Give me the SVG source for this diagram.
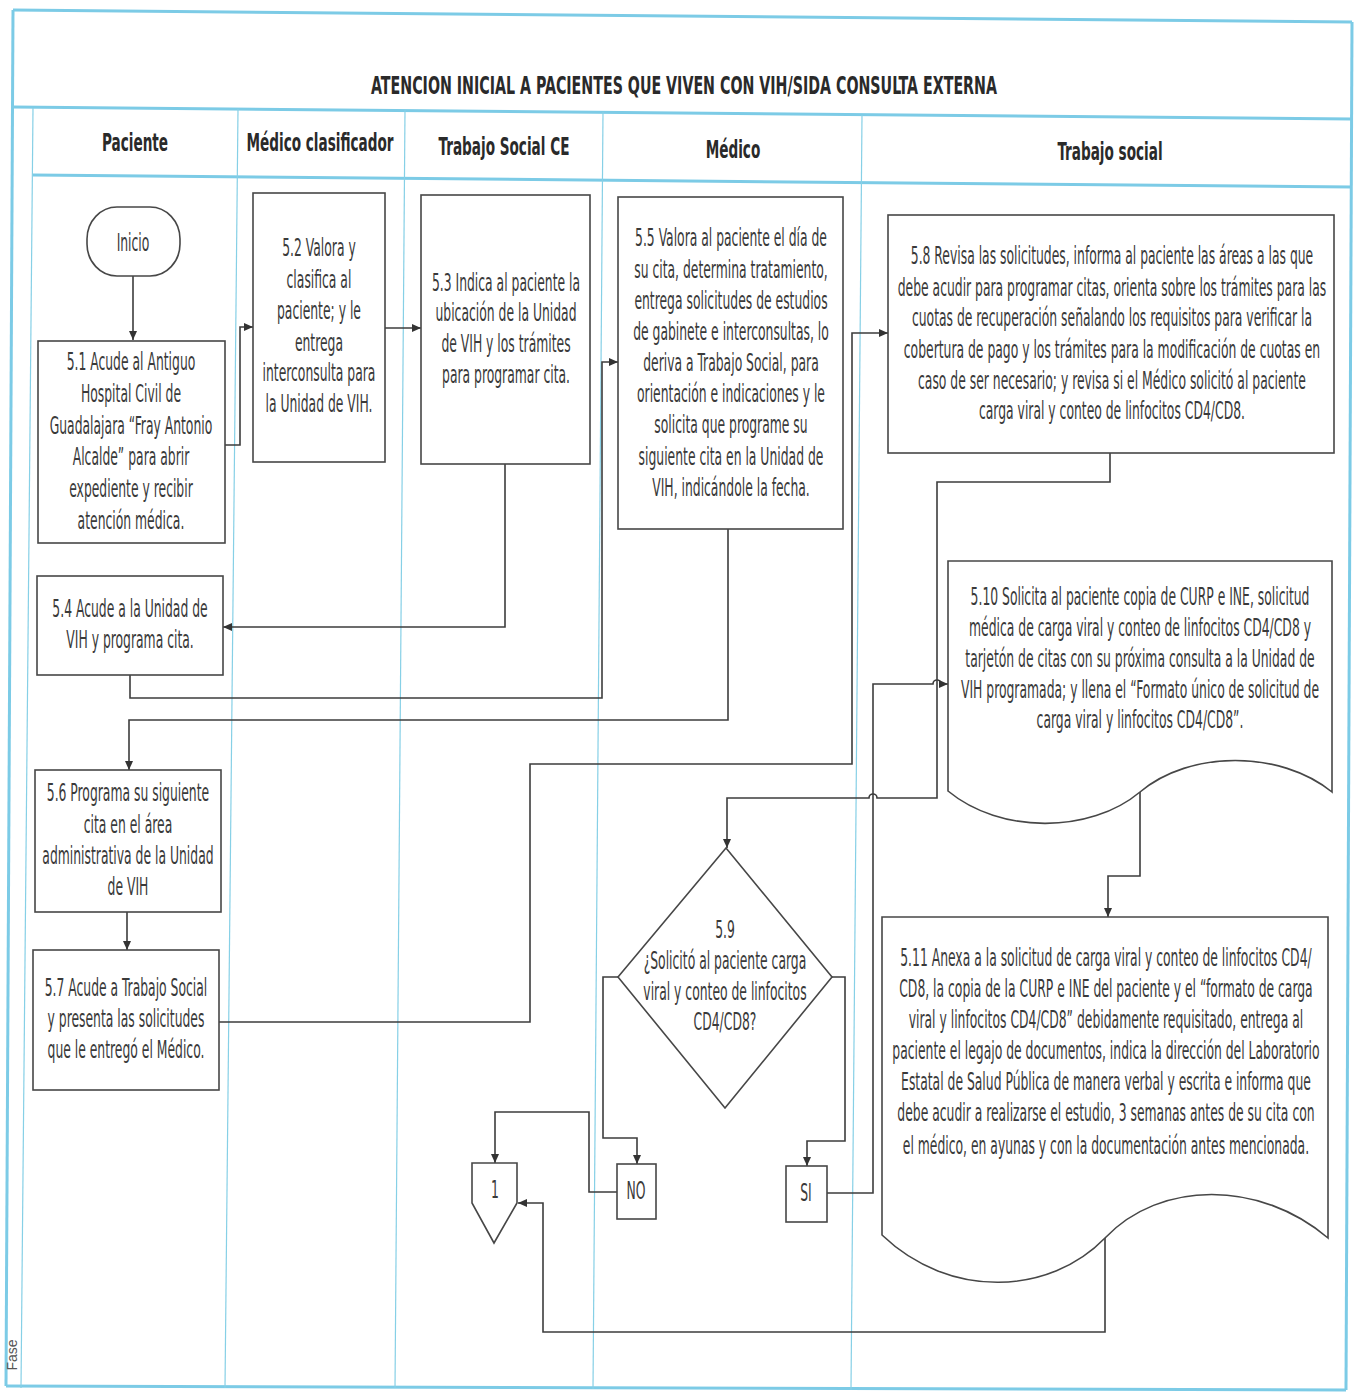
<svg xmlns="http://www.w3.org/2000/svg" width="1356" height="1393" viewBox="0 0 1356 1393">
<style>
.lane{stroke:#86d0e6;stroke-width:1.2;fill:none}
.frame{stroke:#7ccbe6;stroke-width:3;fill:none}
.box{fill:#fff;stroke:#474747;stroke-width:1.6}
.con{fill:none;stroke:#3d3d3d;stroke-width:1.6}
.t{font-family:"Liberation Sans Narrow","Arial Narrow","DejaVu Sans Condensed",sans-serif;font-size:16px;fill:#3a3a3a;text-anchor:middle}
.h{font-family:"Liberation Sans Narrow","Arial Narrow","DejaVu Sans Condensed",sans-serif;font-size:17px;font-weight:bold;fill:#2a2a2a;text-anchor:middle}
.fase{font-family:"Liberation Sans","DejaVu Sans",sans-serif;font-size:14px;fill:#555;text-anchor:middle}
</style>
<defs>
<marker id="arr" markerWidth="10" markerHeight="8" refX="9" refY="4" orient="auto" markerUnits="userSpaceOnUse">
<path d="M0,0 L9,4 L0,8 Z" fill="#333"/>
</marker>
</defs>
<rect width="1356" height="1393" fill="#fff"/>

<g id="swimlanes">
<path class="frame" d="M13,10 L1352,22"/>
<path class="frame" d="M13,107 L1352,119"/>
<path class="frame" d="M33,175 L1352,187"/>
<path class="frame" d="M13,10 L6,1386"/>
<path class="frame" d="M6,1386 L1346,1390"/>
<path class="frame" d="M1352,22 L1346,1390"/>
<path class="lane" d="M33,108 L21,1388"/>
<path class="lane" d="M238,109 L225,1388"/>
<path class="lane" d="M405,110 L395,1388"/>
<path class="lane" d="M603,112 L593,1389"/>
<path class="lane" d="M862,115 L851,1390"/>
<g transform="scale(0.93,1.5)">
<text class="h" x="735.5" y="63">ATENCION INICIAL A PACIENTES QUE VIVEN CON VIH/SIDA CONSULTA EXTERNA</text>
</g>
<g transform="scale(0.89,1.5)">
<text class="h" x="151.7" y="100.7">Paciente</text>
<text class="h" x="359.6" y="100.7">Médico clasificador</text>
<text class="h" x="566.3" y="103.3">Trabajo Social CE</text>
<text class="h" x="823.6" y="105.3">Médico</text>
<text class="h" x="1247.2" y="106.7">Trabajo social</text>
</g>
<text class="fase" transform="translate(17,1355) rotate(-90)">Fase</text>
</g>

<g id="connectors">
<path class="con" marker-end="url(#arr)" d="M133,276 V340"/>
<path class="con" marker-end="url(#arr)" d="M225,445 H240 V327 H253"/>
<path class="con" marker-end="url(#arr)" d="M385,328 H421"/>
<path class="con" marker-end="url(#arr)" d="M505,464 V627 H223"/>
<path class="con" marker-end="url(#arr)" d="M130,675 V698 H602 V362 H618"/>
<path class="con" marker-end="url(#arr)" d="M728,529 V720 H129 V770"/>
<path class="con" marker-end="url(#arr)" d="M127,912 V950"/>
<path class="con" marker-end="url(#arr)" d="M219,1022 H530 V764 H852 V333 H888"/>
<path class="con" marker-end="url(#arr)" d="M1110,453 V482 H937 V798 H877 A4,4 0 0 0 869,798 H727 V848"/>
<path class="con" marker-end="url(#arr)" d="M827,1193 H873 V684 H933 A4,4 0 0 1 941,684 H948"/>
<path class="con" marker-end="url(#arr)" d="M1140,792 V876 H1108 V917"/>
<path class="con" marker-end="url(#arr)" d="M618,977 H603 V1138 H637 V1164"/>
<path class="con" marker-end="url(#arr)" d="M832,977 H845 V1141 H807 V1166"/>
<path class="con" marker-end="url(#arr)" d="M617,1192 H589 V1112 H495 V1163"/>
<path class="con" marker-end="url(#arr)" d="M1105,1238 V1332 H543 V1203 H518"/>
</g>

<g id="inicio">
<rect class="box" x="87" y="207" width="93" height="69" rx="30" ry="32"/>
<g transform="scale(0.86,1.5)"><text class="t" x="154.65" y="167.3" font-size="17">Inicio</text></g>
</g>

<g id="n51">
<rect class="box" x="38" y="341" width="187" height="202"/>
<g transform="scale(0.86,1.5)">
<text class="t" x="152.3" y="246.7">5.1 Acude al Antiguo</text>
<text class="t" x="152.3" y="268">Hospital Civil de</text>
<text class="t" x="152.3" y="289.3">Guadalajara “Fray Antonio</text>
<text class="t" x="152.3" y="310">Alcalde” para abrir</text>
<text class="t" x="152.3" y="331.3">expediente y recibir</text>
<text class="t" x="152.3" y="352.7">atención médica.</text>
</g>
</g>

<g id="n52">
<rect class="box" x="253" y="193" width="132" height="269"/>
<g transform="scale(0.86,1.5)">
<text class="t" x="370.9" y="170.7">5.2 Valora y</text>
<text class="t" x="370.9" y="192">clasifica al</text>
<text class="t" x="370.9" y="212.7">paciente; y le</text>
<text class="t" x="370.9" y="234">entrega</text>
<text class="t" x="370.9" y="254">interconsulta para</text>
<text class="t" x="370.9" y="274.7">la Unidad de VIH.</text>
</g>
</g>

<g id="n53">
<rect class="box" x="421" y="195" width="169" height="269"/>
<g transform="scale(0.86,1.5)">
<text class="t" x="588.4" y="194">5.3 Indica al paciente la</text>
<text class="t" x="588.4" y="214">ubicación de la Unidad</text>
<text class="t" x="588.4" y="234.7">de VIH y los trámites</text>
<text class="t" x="588.4" y="255.3">para programar cita.</text>
</g>
</g>

<g id="n55">
<rect class="box" x="618" y="197" width="225" height="332"/>
<g transform="scale(0.86,1.5)">
<text class="t" x="850" y="164">5.5 Valora al paciente el día de</text>
<text class="t" x="850" y="185.3">su cita, determina tratamiento,</text>
<text class="t" x="850" y="206">entrega solicitudes de estudios</text>
<text class="t" x="850" y="226.7">de gabinete e interconsultas, lo</text>
<text class="t" x="850" y="247.3">deriva a Trabajo Social, para</text>
<text class="t" x="850" y="268">orientación e indicaciones y le</text>
<text class="t" x="850" y="288.7">solicita que programe su</text>
<text class="t" x="850" y="310">siguiente cita en la Unidad de</text>
<text class="t" x="850" y="330.7">VIH, indicándole la fecha.</text>
</g>
</g>

<g id="n58">
<rect class="box" x="888" y="215" width="446" height="238"/>
<g transform="scale(0.86,1.5)">
<text class="t" x="1293" y="176">5.8 Revisa las solicitudes, informa al paciente las áreas a las que</text>
<text class="t" x="1293" y="197.3">debe acudir para programar citas, orienta sobre los trámites para las</text>
<text class="t" x="1293" y="217.3">cuotas de recuperación señalando los requisitos para verificar la</text>
<text class="t" x="1293" y="238.7">cobertura de pago y los trámites para la modificación de cuotas en</text>
<text class="t" x="1293" y="259.3">caso de ser necesario; y revisa si el Médico solicitó al paciente</text>
<text class="t" x="1293" y="279.3">carga viral y conteo de linfocitos CD4/CD8.</text>
</g>
</g>

<g id="n54">
<rect class="box" x="37" y="576" width="186" height="99"/>
<g transform="scale(0.86,1.5)">
<text class="t" x="151.2" y="411.3">5.4 Acude a la Unidad de</text>
<text class="t" x="151.2" y="432">VIH y programa cita.</text>
</g>
</g>

<g id="n510">
<path class="box" d="M948,791 V561 H1332 V792 C1280,750 1190,750 1140,792 C1090,834 1000,834 948,791 Z"/>
<g transform="scale(0.86,1.5)">
<text class="t" x="1325.6" y="403.3">5.10 Solicita al paciente copia de CURP e INE, solicitud</text>
<text class="t" x="1325.6" y="424">médica de carga viral y conteo de linfocitos CD4/CD8 y</text>
<text class="t" x="1325.6" y="444.7">tarjetón de citas con su próxima consulta a la Unidad de</text>
<text class="t" x="1325.6" y="465.3">VIH programada; y llena el “Formato único de solicitud de</text>
<text class="t" x="1325.6" y="485.3">carga viral y linfocitos CD4/CD8”.</text>
</g>
</g>

<g id="n56">
<rect class="box" x="35" y="770" width="186" height="142"/>
<g transform="scale(0.86,1.5)">
<text class="t" x="148.8" y="534">5.6 Programa su siguiente</text>
<text class="t" x="148.8" y="555.3">cita en el área</text>
<text class="t" x="148.8" y="576">administrativa de la Unidad</text>
<text class="t" x="148.8" y="596.7">de VIH</text>
</g>
</g>

<g id="n57">
<rect class="box" x="33" y="950" width="186" height="140"/>
<g transform="scale(0.86,1.5)">
<text class="t" x="146.5" y="664">5.7 Acude a Trabajo Social</text>
<text class="t" x="146.5" y="684.7">y presenta las solicitudes</text>
<text class="t" x="146.5" y="705.3">que le entregó el Médico.</text>
</g>
</g>

<g id="n59">
<polygon class="box" points="726,848 832,977 725,1108 618,977"/>
<g transform="scale(0.86,1.5)">
<text class="t" x="843" y="625.3">5.9</text>
<text class="t" x="843" y="646">¿Solicitó al paciente carga</text>
<text class="t" x="843" y="666.7">viral y conteo de linfocitos</text>
<text class="t" x="843" y="686.7">CD4/CD8?</text>
</g>
</g>

<g id="n511">
<path class="box" d="M882,1235 V917 H1328 V1238 C1260,1180 1160,1180 1105,1238 C1050,1295 950,1300 882,1235 Z"/>
<g transform="scale(0.86,1.5)">
<text class="t" x="1286" y="644">5.11 Anexa a la solicitud de carga viral y conteo de linfocitos CD4/</text>
<text class="t" x="1286" y="664.7">CD8, la copia de la CURP e INE del paciente y el “formato de carga</text>
<text class="t" x="1286" y="685.3">viral y linfocitos CD4/CD8” debidamente requisitado, entrega al</text>
<text class="t" x="1286" y="706">paciente el legajo de documentos, indica la dirección del Laboratorio</text>
<text class="t" x="1286" y="726.7">Estatal de Salud Pública de manera verbal y escrita e informa que</text>
<text class="t" x="1286" y="747.3">debe acudir a realizarse el estudio, 3 semanas antes de su cita con</text>
<text class="t" x="1286" y="769.3">el médico, en ayunas y con la documentación antes mencionada.</text>
</g>
</g>

<g id="no">
<rect class="box" x="617" y="1164" width="39" height="55"/>
<g transform="scale(0.86,1.5)"><text class="t" x="739.5" y="799.3" font-size="17">NO</text></g>
</g>

<g id="si">
<rect class="box" x="786" y="1166" width="41" height="56"/>
<g transform="scale(0.86,1.5)"><text class="t" x="937.2" y="800.7" font-size="17">SI</text></g>
</g>

<g id="conector1">
<polygon class="box" points="472,1163 517,1163 517,1203 494,1243 472,1203"/>
<g transform="scale(0.86,1.5)"><text class="t" x="575.6" y="798.7" font-size="17">1</text></g>
</g>
</svg>
